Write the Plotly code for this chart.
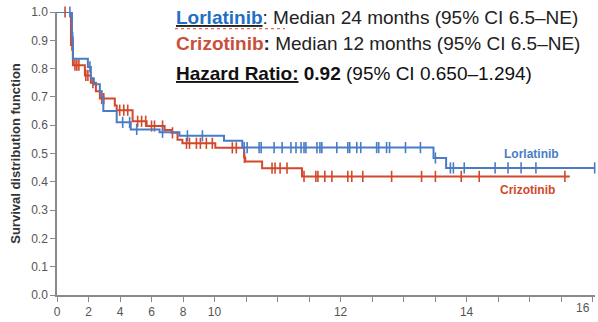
import numpy as np
import plotly.graph_objects as go

# Kaplan-Meier step points (months, survival after the step)
lor_t = [0, 0.95, 1.01, 1.96, 2.15, 2.34, 2.72, 2.84, 2.94, 3.79, 4.68, 6.51, 7.77, 10.6, 11.76, 23.9, 24.7, 34.13]
lor_s = [1.0, 0.91, 0.835, 0.806, 0.765, 0.745, 0.72, 0.70, 0.65, 0.61, 0.585, 0.575, 0.5625, 0.545, 0.521, 0.484, 0.449, 0.449]
lor_cens = [0.82, 0.99, 2.09, 4.17, 4.61, 5.06, 6.70, 8.28, 9.23, 11.88, 12.07, 12.83, 12.96, 13.78,
            14.29, 14.85, 15.17, 15.49, 15.68, 15.80, 16.50, 16.69, 16.81, 17.76, 18.46, 18.58,
            19.03, 19.28, 20.29, 20.42, 20.92, 21.11, 22.12, 23.07, 24.02, 24.97, 25.16, 25.85,
            27.81, 28.63, 29.46, 30.40, 34.13]

criz_t = [0, 0.885, 1.01, 1.77, 2.15, 2.47, 2.72, 3.67, 3.79, 4.80, 5.69, 6.83, 7.27, 7.65, 7.96,
          10.05, 11.88, 11.95, 13.02, 15.55, 32.55]
criz_s = [1.0, 0.883, 0.812, 0.776, 0.75, 0.72, 0.694, 0.67, 0.653, 0.614, 0.597, 0.583, 0.573,
          0.549, 0.536, 0.52, 0.486, 0.472, 0.448, 0.419, 0.419]
criz_cens = [0.51, 0.95, 1.14, 1.26, 1.39, 1.83, 1.96, 2.28, 2.84, 2.97, 3.98, 4.24, 4.49, 5.12,
             5.37, 5.63, 6.0, 6.19, 6.70, 7.33, 8.22, 8.41, 8.85, 9.10, 9.48, 9.86, 11.13, 11.38,
             11.90, 13.65, 13.84, 14.16, 14.60, 15.68, 16.43, 16.56, 17.0, 17.45, 18.46, 18.71,
             19.41, 21.24, 23.14, 24.02, 25.66, 26.80, 32.24]

x_tickvals = list(range(0, 36, 2))
x_ticktext = ["0", "2", "4", "6", "8", "10", "", "", "", "12", "", "", "", "14", "", "", "", ""]
y_tickvals = [0.0, 0.1, 0.2, 0.3, 0.4, 0.5, 0.6, 0.7, 0.8, 0.9, 1.0]

BLUE = "#4a7cc6"
RED = "#d2482a"
FONT = "Arial, Liberation Sans, sans-serif"


def step_value(t_pts, s_pts, t):
    i = np.searchsorted(np.array(t_pts), t, side="right") - 1
    return s_pts[max(i, 0)]


fig = go.Figure()
for t_pts, s_pts, cens, col in [(criz_t, criz_s, criz_cens, RED), (lor_t, lor_s, lor_cens, BLUE)]:
    fig.add_trace(go.Scatter(x=t_pts, y=s_pts, mode="lines", line=dict(color=col, width=2, shape="hv"),
                             hoverinfo="skip", showlegend=False, cliponaxis=False))
    fig.add_trace(go.Scatter(x=cens, y=[step_value(t_pts, s_pts, c) for c in cens], mode="markers",
                             marker=dict(symbol="line-ns", size=8, line=dict(color=col, width=1.6)),
                             showlegend=False, cliponaxis=False))

W, H = 598, 322
L, R, T, B = 57, 3, 12, 22


def px(xp):
    return (xp - L) / (W - L - R)


def py(yp):
    return (H - B - yp) / (H - T - B)


anns = [
    dict(x=px(174), y=py(18), xanchor="left", yanchor="middle",
         text=("<b><u><span style='color:#1f6fc4'>Lorlatinib</span></u></b>"
               ": Median 24 months (95% CI 6.5–NE)"),
         font=dict(size=19, color="#222222", family=FONT)),
    dict(x=px(174), y=py(44), xanchor="left", yanchor="middle",
         text="<b><span style='color:#c9503a'>Crizotinib</span>: </b>Median 12 months (95% CI 6.5–NE)",
         font=dict(size=19, color="#222222", family=FONT)),
    dict(x=px(174), y=py(75), xanchor="left", yanchor="middle",
         text="<b><u>Hazard Ratio:</u> 0.92</b> (95% CI 0.650–1.294)",
         font=dict(size=19, color="#111111", family=FONT)),
    dict(x=px(531), y=py(157), xanchor="center", yanchor="middle", text="<b>Lorlatinib</b>",
         font=dict(size=12, color=BLUE, family=FONT)),
    dict(x=px(527), y=py(193), xanchor="center", yanchor="middle", text="<b>Crizotinib</b>",
         font=dict(size=12, color=RED, family=FONT)),
    dict(x=px(583), y=py(313), xanchor="center", yanchor="middle", text="16",
         font=dict(size=12, color="#555555", family=FONT)),
]
for a in anns:
    a.update(xref="paper", yref="paper", showarrow=False)

fig.update_layout(
    width=W, height=H, margin=dict(l=L, r=R, t=T, b=B),
    paper_bgcolor="white", plot_bgcolor="white",
    font=dict(family=FONT, color="#555555", size=12),
    annotations=anns,
    shapes=[dict(type="line", xref="paper", yref="paper", x0=px(175), x1=px(285), y0=py(29), y1=py(29),
                 line=dict(color="#e0413a", width=1, dash="dot"))],
    xaxis=dict(range=[0, 34.15], tickvals=x_tickvals, ticktext=x_ticktext, showgrid=False,
               zeroline=False, showline=True, linecolor="#8a8a8a", linewidth=1.5,
               ticks="outside", ticklen=5, tickcolor="#8a8a8a", tickwidth=1.2,
               tickfont=dict(size=12, color="#555555")),
    yaxis=dict(range=[0, 1.0], tickvals=y_tickvals, tickformat=".1f", showgrid=False,
               zeroline=False, showline=True, linecolor="#8a8a8a", linewidth=1.5,
               ticks="outside", ticklen=5, tickcolor="#8a8a8a", tickwidth=1.2,
               tickfont=dict(size=12, color="#555555"),
               title=dict(text="<b>Survival distribution function</b>", standoff=8,
                          font=dict(size=13, color="#333333"))),
)

fig.write_html("out.html")
